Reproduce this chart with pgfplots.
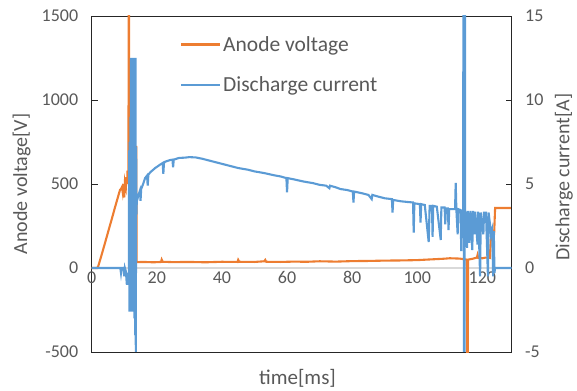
\documentclass[border=0pt]{standalone}
\usepackage{fontspec}
\setmainfont{Carlito}
\usepackage{pgfplots}
\pgfplotsset{compat=1.18}
\definecolor{vorange}{HTML}{ED7D31}
\definecolor{cblue}{HTML}{5B9BD5}
\definecolor{txtgray}{HTML}{595959}
\definecolor{zerogray}{HTML}{D9D9D9}
\definecolor{framec}{HTML}{262626}

\pgfplotsset{
  common/.style={
    scale only axis, width=420bp, height=336bp,
    xmin=0, xmax=129,
    at={(0,0)}, anchor=south west,
    tick align=inside,
    major tick length=6bp,
    tick style={framec, line width=0.8bp},
    axis line style={framec, line width=0.9bp},
    ticklabel style={font=\fontsize{18bp}{20bp}\selectfont, text=txtgray},
    /pgf/number format/assume math mode=true,
    /pgf/number format/1000 sep={},
    every axis y label/.style={rotate=90, anchor=center, font=\fontsize{20bp}{24bp}\selectfont, text=txtgray},
    every axis x label/.style={at={(axis description cs:0.49,-0.077)}, anchor=center, font=\fontsize{21bp}{24bp}\selectfont, text=txtgray},
  }
}

\begin{document}
\begin{tikzpicture}
\path[use as bounding box] (-91.7bp,-39bp) rectangle (485.3bp,352bp);
\begin{axis}[common,
  ymin=-500, ymax=1500, ytick={-500,0,...,1500},
  ytick pos=left,
  xtick={0,20,...,120},
  xtick style={draw=none},
  xticklabel style={yshift=84bp},
  yticklabel style={xshift=-10bp},
  xlabel={time[ms]},
  ylabel={Anode voltage[V]},
  ylabel style={at={(axis description cs:-0.167,0.5)}},
]
\draw[zerogray, line width=1.2bp] (axis cs:0,0) -- (axis cs:129,0);
\addplot[vorange, line width=2.1bp] coordinates {
(0,0)(1.7,0)(2,10)(3,75)(4,143)(5,212)(6,280)(7,350)(8,418)(8.7,465)(9,470)(9.3,482)(9.5,455)(9.7,500)(10,420)(10.2,510)(10.5,480)(10.7,540)(10.9,500)(11.0,580)(11.2,530)(11.3,600)(11.35,1600)(11.45,1600)(11.5,550)(12.5,500)(13.4,450)(13.55,720)(13.7,720)(13.8,35)
(16,36)(19,34)(21.3,36)(21.5,50)(21.8,37)(25,35)(30,36)(35,34)(40,37)(44.8,36)(45,48)(45.3,37)(50,36)(53,40)(53.3,48)(53.6,37)(58,36)(62,38)(66,37)(70,40)(75,38)(80,41)(85,42)(90,44)(95,45)(100,47)(105,52)(108,55)(110,58)(113,56)(115.2,50)(115.35,-600)(115.5,-600)(115.6,50)(117,55)(118.3,62)(118.5,77)(118.7,60)(120,58)(121,62)(122.3,60)(122.6,180)(123.6,200)(123.9,357)(129,357)
};
\end{axis}
\begin{axis}[common,
  ymin=-5, ymax=15, ytick={-5,0,...,15},
  axis y line*=right, axis x line=none,
  yticklabel style={xshift=10bp},
  ylabel={Discharge current[A]},
  ylabel style={at={(axis description cs:1.124,0.52)}},
  legend cell align=left,
  legend style={draw=none, fill=none, at={(rel axis cs:0.21,0.946)}, anchor=north west,
    font=\fontsize{21.5bp}{24bp}\selectfont, text=txtgray, row sep=20bp, inner sep=0pt},
  legend image code/.code={\draw[#1] (0bp,0bp) -- (39bp,0bp);},
]
\addlegendimage{vorange, line width=2.1bp}
\addlegendentry{Anode voltage}
\addplot[cblue, line width=2.1bp] coordinates {
(0,0)(8.8,0)(9.0,-0.3)(9.2,0)(9.8,0)(10.0,-0.5)(10.2,0)(10.5,-0.2)(10.8,-1.0)(11.0,-0.3)(11.3,-0.8)
(11.4,-1)(11.5,7)(11.6,-2.6)(11.7,7.5)(11.8,-2.6)(11.9,9)(12.0,-2.6)(12.05,12.5)(12.15,-2.6)(12.25,12.5)(12.35,-2.0)(12.45,12.5)(12.55,-2.5)(12.65,12.5)(12.75,-2.6)(12.85,12.5)(12.95,-2.0)(13.05,12.5)(13.15,-3)(13.25,12.5)(13.35,-4)(13.45,12.5)(13.55,-5.5)(13.65,7.2)(13.75,3.2)(13.85,4.0)
(13.9,4.0)(14.3,4.3)(14.8,4.6)(15.0,4.0)(15.2,4.7)(15.8,5.0)(16.4,5.35)(17.0,5.5)(17.2,4.9)(17.4,5.55)(18,5.7)(19.5,5.95)(21,6.15)(21.8,6.25)(22.0,5.6)(22.2,6.25)(22.6,6.33)(24,6.42)(24.8,6.45)(25.0,6.0)(25.2,6.45)(26.8,6.55)(28.7,6.57)(30,6.6)(32,6.58)(34,6.5)(36,6.4)(38,6.3)(40,6.2)(42.6,6.07)(45,5.95)(48,5.85)(50,5.75)(53,5.65)(56,5.52)(58,5.45)(59.8,5.35)(60,4.5)(60.2,5.35)(62,5.28)(65,5.15)(68,5.05)(70,4.95)(72,4.9)(73,4.75)(73.2,4.9)(75,4.8)(76.4,4.7)(78.5,4.64)(80.2,4.55)(80.4,3.9)(80.6,4.55)(83,4.45)(85,4.35)(86,4.1)(86.2,4.35)(88,4.25)(90,4.15)(92.2,4.1)(92.4,3.3)(92.6,4.05)(95,3.97)(97,3.93)(98.7,3.9)(98.9,2.1)(99.1,3.85)(100.8,3.8)(101,2.7)(101.2,3.8)(102.3,3.75)(103.5,1.55)(103.8,3.7)(104.5,3.7)(104.7,1.85)(104.9,3.7)(106,3.65)(107.2,1.67)(107.4,3.6)(108.4,3.6)(108.6,2.6)(108.8,3.55)(109.4,3.55)(109.6,2.26)(109.8,3.5)(111.6,3.5)(111.8,5.06)(112,3.5)(112.4,2.0)(112.6,3.5)(113.3,3.45)(113.5,1.0)(113.7,3.4)(114.1,3.4)(114.15,16)(114.3,16)(114.35,-6)(114.5,-6)(114.55,16)(114.65,16)(114.7,3.4)(115.3,1.2)(115.5,3.4)(116,1.5)(116.3,3.4)(116.9,1.07)(117.1,3.4)(117.6,2.0)(117.8,3.35)(118.5,1.4)(118.7,3.35)(119.3,-0.5)(119.5,3.3)(120.3,2.0)(120.5,3.3)(121.1,3.3)(121.7,-0.5)(121.9,3.3)(122.4,2.5)(122.6,2.0)(123.0,2.3)(123.3,-0.5)(123.5,2.2)(123.7,-0.3)(123.9,0)(129,0)
};
\addlegendentry{Discharge current}
\end{axis}
\end{tikzpicture}
\end{document}
